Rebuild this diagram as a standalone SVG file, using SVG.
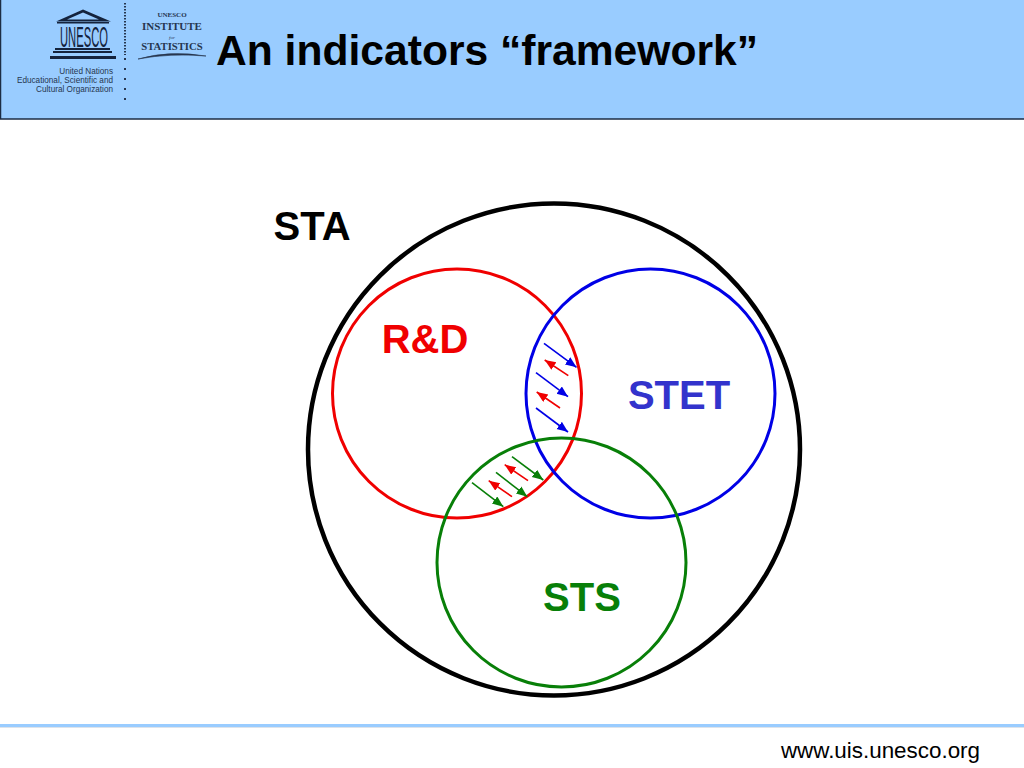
<svg xmlns="http://www.w3.org/2000/svg" width="1024" height="768" viewBox="0 0 1024 768">
<style>
text{font-family:"Liberation Sans",Arial,sans-serif}
.b{font-weight:bold}
.c{fill:none}
.lg{font-size:8.200px;fill:#26364f;text-anchor:end}
.ser{font-family:"Liberation Serif","Times New Roman",serif;fill:#26364f;text-anchor:middle}
.lab{font-size:40px;font-weight:bold;text-anchor:middle}
.logo{fill:#14233d}
</style>
<defs>
<marker id="mb" markerUnits="userSpaceOnUse" markerWidth="13" markerHeight="10" refX="11" refY="4.500" orient="auto"><path d="M0 0L11 4.500L0 9z" fill="#0000e6"/></marker>
<marker id="mr" markerUnits="userSpaceOnUse" markerWidth="13" markerHeight="10" refX="11" refY="4.500" orient="auto"><path d="M0 0L11 4.500L0 9z" fill="#f00000"/></marker>
<marker id="mg" markerUnits="userSpaceOnUse" markerWidth="13" markerHeight="10" refX="11" refY="4.500" orient="auto"><path d="M0 0L11 4.500L0 9z" fill="#087f08"/></marker>
</defs>
<rect width="1024" height="768" fill="#fff"/>
<g id="header">
<rect x="0.500" y="-2" width="1030" height="121" fill="#99ccff" stroke="#1c2c44" stroke-width="1.500"/>
<text x="216" y="65" class="b" font-size="42.600" fill="#000">An indicators “framework”</text>
</g>
<g id="logo">
<path class="logo" d="M83 9.500L56 21.500H111ZM83 12.500L67 19.500H99Z" fill-rule="evenodd"/>
<rect class="logo" x="57" y="22" width="52" height="1.500"/>
<text transform="translate(60 46.500) scale(1.122 3)" class="logo" font-size="10">UNESCO</text>
<rect class="logo" x="55" y="48" width="55" height="2"/>
<rect class="logo" x="53" y="51" width="59" height="2"/>
<rect class="logo" x="50" y="56" width="66" height="3"/>
<text x="113" y="74" class="lg">United Nations</text>
<text x="113" y="83" class="lg">Educational, Scientific and</text>
<text x="113" y="92" class="lg">Cultural Organization</text>
<path d="M125 3V55" stroke="#26364f" stroke-width="2" stroke-dasharray="1.500 1.500"/>
<path d="M125 58V106" stroke="#26364f" stroke-width="2" stroke-dasharray="2 8"/>
<text x="172" y="17" class="ser" font-size="7" font-weight="bold">UNESCO</text>
<text x="172" y="30" class="ser" font-size="11" font-weight="bold">INSTITUTE</text>
<text x="172" y="38.500" class="ser" font-size="5" font-style="italic">for</text>
<text x="172" y="49.500" class="ser" font-size="10.700" font-weight="bold">STATISTICS</text>
<path d="M138 59Q170 50 206 56Q170 53 138 59Z" stroke="#26364f" stroke-width="0.600" fill="#26364f"/>
</g>
<g id="STA"><circle class="c" cx="554" cy="449.500" r="246" stroke="#000" stroke-width="4.500"/><text x="312" y="240" class="lab" fill="#000">STA</text></g>
<g id="RD"><circle class="c" cx="457" cy="393.500" r="124.500" stroke="#f00000" stroke-width="3"/><text x="425" y="353" class="lab" fill="#f00000">R&amp;D</text></g>
<g id="STET"><circle class="c" cx="650.500" cy="393.500" r="124.500" stroke="#0000e6" stroke-width="3"/><text x="679" y="409" class="lab" fill="#3333cc">STET</text></g>
<g id="STS"><circle class="c" cx="561.500" cy="562.500" r="124.500" stroke="#087f08" stroke-width="3"/><text x="582" y="611" class="lab" fill="#087f08">STS</text></g>
<g id="connectors" fill="none" stroke-width="1.600">
<g stroke="#0000e6">
<path d="M544 343.300L576.500 367.300" marker-end="url(#mb)"/><path d="M536 372.700L568 396.700" marker-end="url(#mb)"/><path d="M536 408L568 432" marker-end="url(#mb)"/>
</g>
<g stroke="#f00000">
<path d="M568.300 375.700L544.700 360" marker-end="url(#mr)"/><path d="M560 408L536.700 392" marker-end="url(#mr)"/>
<path d="M528 480.700L504.700 464.700" marker-end="url(#mr)"/><path d="M512 496.700L488.700 480.700" marker-end="url(#mr)"/>
</g>
<g stroke="#087f08">
<path d="M512 456.700L543.300 480" marker-end="url(#mg)"/><path d="M496 472.300L527.300 496.700" marker-end="url(#mg)"/><path d="M472 482.700L503.300 506.700" marker-end="url(#mg)"/>
</g>
</g>
<g id="footer">
<rect x="0" y="724" width="1024" height="3" fill="#99ccff"/>
<rect x="0" y="727" width="1024" height="1" fill="#dde3ea"/>
<text x="980" y="758" font-size="22.400" fill="#000" text-anchor="end">www.uis.unesco.org</text>
</g>
</svg>
